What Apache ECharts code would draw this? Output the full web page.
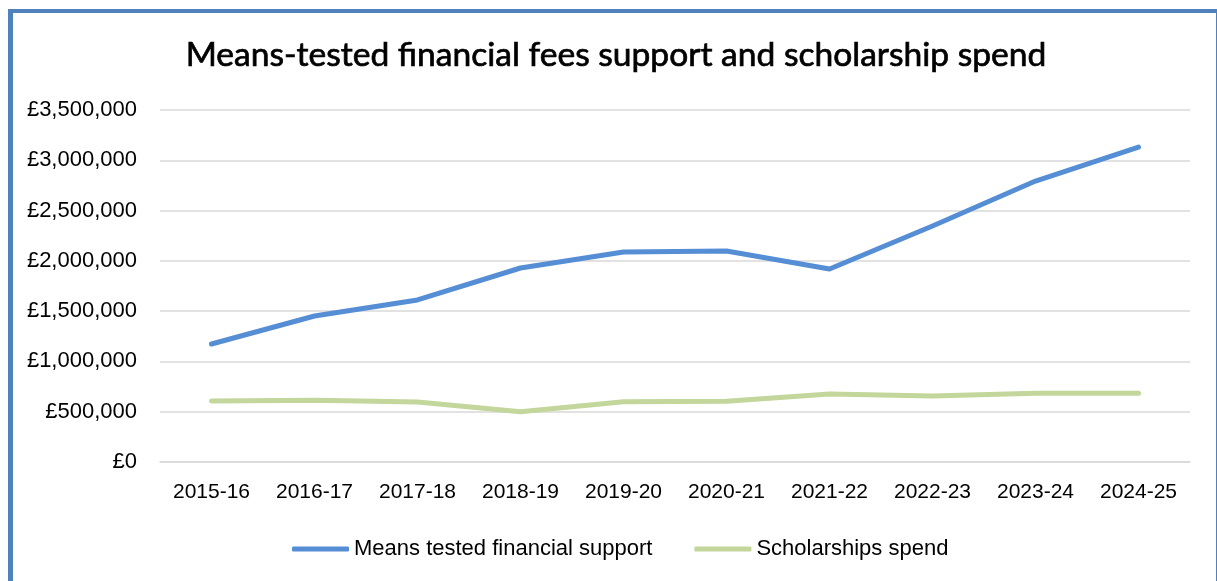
<!DOCTYPE html>
<html>
<head>
<meta charset="utf-8">
<script src="https://cdn.jsdelivr.net/npm/echarts@6/dist/echarts.min.js"></script>
<style>
html,body{margin:0;padding:0;background:#fff;}
#chart{position:absolute;left:0;top:0;width:1217px;height:581px;}
#frame{position:absolute;left:8px;top:9px;width:1203px;height:580px;border-left:5px solid #4F81BD;border-top:4px solid #4F81BD;border-right:2px solid #4F81BD;pointer-events:none;}
</style>
</head>
<body>
<div id="chart"></div>
<div id="frame"></div>
<script>
const titleText = 'Means-tested financial fees support and scholarship spend';
const categories = ['2015-16','2016-17','2017-18','2018-19','2019-20','2020-21','2021-22','2022-23','2023-24','2024-25'];
const meansTested = [1173000, 1452000, 1611000, 1929000, 2088000, 2098000, 1919000, 2347000, 2794000, 3132000];
const scholarships = [606000, 614000, 597000, 500000, 600000, 604000, 676000, 656000, 683000, 683000];
const seriesNames = ['Means tested financial support', 'Scholarships spend'];
const yTicks = {min: 0, max: 3500000, interval: 500000};

const chart = echarts.init(document.getElementById('chart'), null, {renderer: 'canvas'});
function fmt(v){ return '£' + v.toString().replace(/\B(?=(\d{3})+(?!\d))/g, ','); }
chart.setOption({
  animation: false,
  backgroundColor: '#fff',
  title: {
    text: titleText,
    left: 611, top: 33, textAlign: 'center',
    textStyle: {fontFamily: 'Lato', fontWeight: 'normal', fontSize: 33.6, color: '#000',
                textBorderColor: '#000', textBorderWidth: 0.7}
  },
  legend: {
    left: 287, top: 533,
    itemWidth: 57, itemHeight: 5, itemGap: 42,
    icon: 'roundRect',
    textStyle: {fontFamily: 'Liberation Sans', fontSize: 22, color: '#000'},
    data: seriesNames
  },
  grid: {left: 160, right: 27, top: 110, bottom: 119, containLabel: false},
  xAxis: {
    type: 'category', data: categories, boundaryGap: true,
    axisLine: {lineStyle: {color: '#d9d9d9', width: 1.5}},
    axisTick: {show: false},
    axisLabel: {fontFamily: 'Liberation Sans', fontSize: 21, color: '#000', margin: 20}
  },
  yAxis: {
    type: 'value', min: yTicks.min, max: yTicks.max, interval: yTicks.interval,
    axisLine: {show: false}, axisTick: {show: false},
    splitLine: {lineStyle: {color: '#d9d9d9', width: 1.5}},
    axisLabel: {fontFamily: 'Liberation Sans', fontSize: 22, color: '#000', margin: 23, formatter: fmt}
  },
  series: [
    {name: seriesNames[0], type: 'line', data: meansTested, showSymbol: false, symbol: 'none',
     lineStyle: {color: '#558ED5', width: 5, cap: 'round', join: 'round'}, itemStyle: {color: '#558ED5'}},
    {name: seriesNames[1], type: 'line', data: scholarships, showSymbol: false, symbol: 'none',
     lineStyle: {color: '#C3D69B', width: 5, cap: 'round', join: 'round'}, itemStyle: {color: '#C3D69B'}}
  ]
});
</script>
</body>
</html>
